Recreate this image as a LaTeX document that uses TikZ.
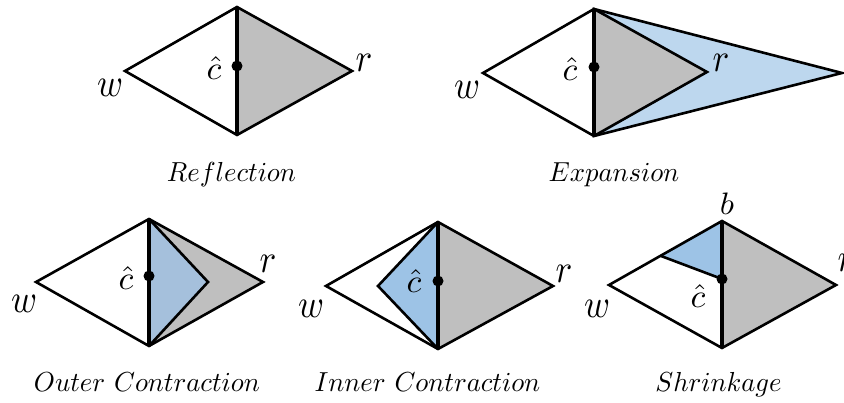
\documentclass[tikz,border=0pt]{standalone}
\usepackage{graphicx}
\definecolor{grayfill}{HTML}{BFBFBF}
\definecolor{expblue}{HTML}{BDD7EE}
\definecolor{outblue}{HTML}{A5C0DC}
\definecolor{inblue}{HTML}{9DC3E6}
\tikzset{
  edgeline/.style={line width=2.6pt, line join=miter},
  axisline/.style={line width=4.6pt, line cap=butt},
  lbl/.style={anchor=base, inner sep=0pt},
  caplbl/.style={anchor=base, inner sep=0pt},
  dotmark/.style={fill=black}
}
\newcommand{\vlab}[1]{\scalebox{3.5}[4.0]{$#1$}}
\newcommand{\clab}{\scalebox{3.4}[3.3]{$\hat{c}$}}
\newcommand{\capt}[1]{\scalebox{2.67}[2.75]{$#1$}}
\begin{document}
\begin{tikzpicture}[x=1pt,y=1pt]
\useasboundingbox (0,0) rectangle (844,403);
% ---------- Panel 1: Reflection ----------
\coordinate (w1) at (125,332);
\coordinate (t1) at (237,396);
\coordinate (b1) at (237,268);
\coordinate (r1) at (352,332);
\coordinate (c1) at (237,337);
\fill[grayfill] (t1) -- (r1) -- (b1) -- cycle;
\draw[edgeline] (w1) -- (t1) -- (r1) -- (b1) -- cycle;
\draw[axisline] (t1) -- (b1);
\fill[dotmark] (c1) circle (5.5pt);
\node[lbl] (lw1) at (110,306) {\vlab{w}};
\node[lbl] (lc1) at (214,323) {\clab};
\node[lbl] (lr1) at (364,331) {\vlab{r}};
\node[caplbl] (cap1) at (231.5,221) {\capt{Reflection}};
% ---------- Panel 2: Expansion ----------
\coordinate (w2) at (483,330);
\coordinate (t2) at (594,394);
\coordinate (b2) at (594,267);
\coordinate (r2) at (707,331);
\coordinate (e2) at (842,330);
\coordinate (c2) at (594,336);
\filldraw[fill=expblue, edgeline] (t2) -- (e2) -- (b2) -- cycle;
\fill[grayfill] (t2) -- (r2) -- (b2) -- cycle;
\draw[edgeline] (b2) -- (w2) -- (t2) -- (r2) -- (b2);
\draw[axisline] (t2) -- (b2);
\fill[dotmark] (c2) circle (5.5pt);
\node[lbl] (lw2) at (467,304) {\vlab{w}};
\node[lbl] (lc2) at (570,322) {\clab};
\node[lbl] (lr2) at (721,331) {\vlab{r}};
\node[caplbl] (cap2) at (614,221) {\capt{Expansion}};
% ---------- Panel 3: Outer Contraction ----------
\coordinate (w3) at (36,121);
\coordinate (t3) at (149,184);
\coordinate (b3) at (149,57);
\coordinate (r3) at (263,121);
\coordinate (o3) at (208,121);
\coordinate (c3) at (149,127);
\fill[grayfill] (t3) -- (r3) -- (b3) -- cycle;
\fill[outblue] (t3) -- (o3) -- (b3) -- cycle;
\draw[edgeline] (w3) -- (t3) -- (r3) -- (b3) -- cycle;
\draw[edgeline] (t3) -- (o3) -- (b3);
\draw[axisline] (t3) -- (b3);
\fill[dotmark] (c3) circle (5.5pt);
\node[lbl] (lw3) at (24,90) {\vlab{w}};
\node[lbl] (lc3) at (126,113) {\clab};
\node[lbl] (lr3) at (268,130) {\vlab{r}};
\node[caplbl] (cap3) at (147,11) {\capt{Outer\ Contraction}};
% ---------- Panel 4: Inner Contraction ----------
\coordinate (w4) at (326,117);
\coordinate (t4) at (438,181);
\coordinate (b4) at (438,54);
\coordinate (r4) at (553,117);
\coordinate (i4) at (378,117);
\coordinate (c4) at (438,122);
\fill[grayfill] (t4) -- (r4) -- (b4) -- cycle;
\fill[inblue] (t4) -- (i4) -- (b4) -- cycle;
\draw[edgeline] (w4) -- (t4) -- (r4) -- (b4) -- cycle;
\draw[edgeline] (t4) -- (i4) -- (b4);
\draw[axisline] (t4) -- (b4);
\fill[dotmark] (c4) circle (5.5pt);
\node[lbl] (lw4) at (311,85) {\vlab{w}};
\node[lbl] (lc4) at (414,110) {\clab};
\node[lbl] (lr4) at (564,120) {\vlab{r}};
\node[caplbl] (cap4) at (427.5,11) {\capt{Inner\ Contraction}};
% ---------- Panel 5: Shrinkage ----------
\coordinate (w5) at (609,118);
\coordinate (t5) at (722,182);
\coordinate (b5) at (722,55);
\coordinate (r5) at (836,118);
\coordinate (m5) at (661,147);
\coordinate (c5) at (722,124);
\fill[grayfill] (t5) -- (r5) -- (b5) -- cycle;
\fill[inblue] (t5) -- (m5) -- (c5) -- cycle;
\draw[edgeline] (w5) -- (t5) -- (r5) -- (b5) -- cycle;
\draw[edgeline] (m5) -- (c5);
\draw[axisline] (t5) -- (b5);
\fill[dotmark] (c5) circle (5.5pt);
\node[lbl] (lw5) at (597,85) {\vlab{w}};
\node[lbl] (lc5) at (698,95) {\clab};
\node[lbl] (lb5) at (727,188) {\scalebox{3.3}[3.1]{$b$}};
\node[lbl] (lr5) at (846,131) {\vlab{r}};
\node[caplbl] (cap5) at (718.5,11) {\capt{Shrinkage}};
\end{tikzpicture}
\end{document}
